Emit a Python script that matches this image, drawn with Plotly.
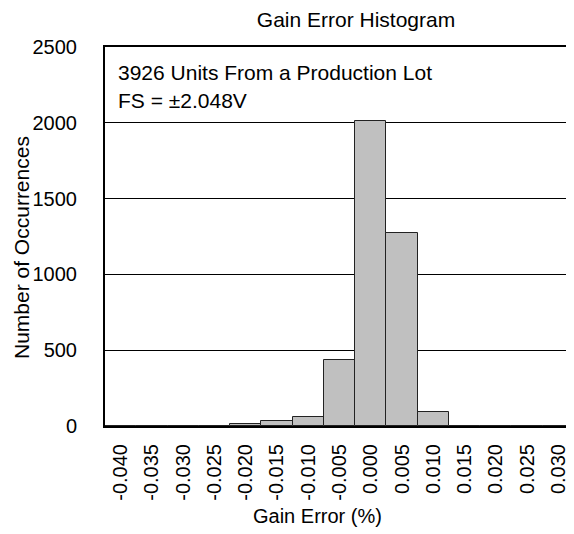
import plotly.graph_objects as go

categories = ["-0.040", "-0.035", "-0.030", "-0.025", "-0.020", "-0.015", "-0.010",
              "-0.005", "0.000", "0.005", "0.010", "0.015", "0.020", "0.025", "0.030"]
counts = [0, 0, 0, 3, 15, 32, 58, 434, 2012, 1275, 91, 1, 0, 0, 0]
y_ticks = [0, 500, 1000, 1500, 2000, 2500]

title_text = "Gain Error Histogram"
x_title = "Gain Error (%)"
y_title = "Number of Occurrences"
note_lines = ["3926 Units From a Production Lot", "FS = ±2.048V"]

FONT = "Liberation Sans, Arial, sans-serif"
FS = 20
FS_BIG = 21

# page body has an 8px default margin; figure is sized to fit the window
OFF = 8
W, H = 574 - OFF, 534 - OFF
PL, PR, PT, PB = 105, 574, 47, 426   # plot area in window pixels
PW, PH = PR - PL, PB - PT

fig = go.Figure()
fig.add_trace(go.Bar(
    x=categories, y=counts,
    marker=dict(color="#c0c0c0", line=dict(color="#222222", width=1)),
))

fig.update_layout(
    width=W, height=H,
    margin=dict(l=PL - OFF, r=0, t=PT - OFF, b=H - (PB - OFF)),
    paper_bgcolor="white", plot_bgcolor="white",
    font=dict(family=FONT, size=FS, color="black"),
    bargap=0,
    showlegend=False,
    title=dict(text=title_text, x=(356 - PL) / PW, xref="paper", xanchor="center",
               y=1 - (20 - OFF) / H, yanchor="middle", font=dict(size=FS_BIG, family=FONT)),
)

fig.update_xaxes(
    type="category", range=[-0.5, 14.5],
    tickangle=-90, tickfont=dict(size=FS),
    showline=True, linecolor="black", linewidth=2, mirror=True,
    showgrid=False, ticks="", ticklabelstandoff=8,
)
fig.update_yaxes(
    range=[0, 2500], tickvals=y_ticks, ticktext=[str(v) for v in y_ticks],
    tickfont=dict(size=FS),
    showline=True, linecolor="black", linewidth=2,
    showgrid=True, gridcolor="black", gridwidth=1,
    zeroline=False, ticks="", ticklabelstandoff=22,
)

fig.add_annotation(text=x_title, xref="paper", yref="paper",
                   x=(317 - PL) / PW, y=-(516 - PB) / PH,
                   xanchor="center", yanchor="middle", showarrow=False,
                   font=dict(size=FS, family=FONT))
fig.add_annotation(text=y_title, xref="paper", yref="paper",
                   x=-(PL - 21) / PW, y=(PB - 248) / PH, textangle=-90,
                   xanchor="center", yanchor="middle", showarrow=False,
                   font=dict(size=FS_BIG, family=FONT))
for i, line in enumerate(note_lines):
    yc = [72.5, 100][i]
    fig.add_annotation(text=line, xref="paper", yref="paper",
                       x=(116 - PL) / PW, y=(PB - yc) / PH,
                       xanchor="left", yanchor="middle", showarrow=False,
                       font=dict(size=FS_BIG, family=FONT))

fig.write_html("out.html")
